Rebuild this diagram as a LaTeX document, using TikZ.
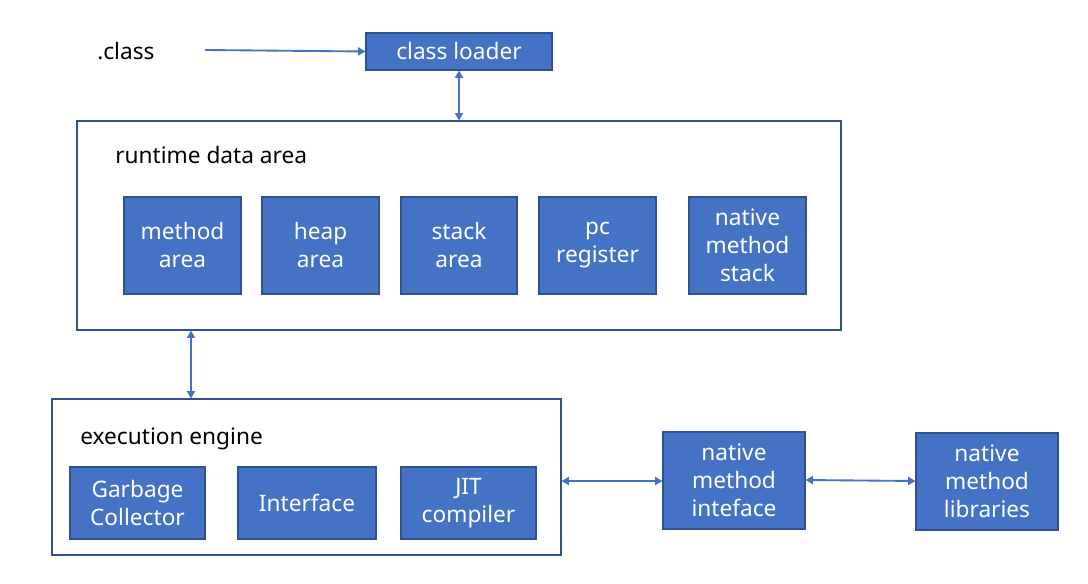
\documentclass[tikz,border=0pt]{standalone}
\usepackage{fontspec}
\setmainfont{Noto Sans}
\usetikzlibrary{arrows.meta}
\definecolor{boxfill}{HTML}{4472C4}
\definecolor{boxline}{HTML}{2F528F}
\tikzset{
  blue box/.style={draw=boxline, line width=0.8pt, fill=boxfill, text=white, align=center, inner sep=0pt,
    font=\fontsize{17pt}{21pt}\selectfont},
  frame/.style={draw=boxline, line width=0.8pt, fill=white, inner sep=0pt},
  label text/.style={font=\fontsize{17pt}{21pt}\selectfont, inner sep=0pt, anchor=west},
  conn/.style={draw=boxfill, line width=1.4pt, {Triangle[length=5.5pt,width=6pt]}-{Triangle[length=5.5pt,width=6pt]}},
  oneway/.style={draw=boxfill, line width=1.4pt, -{Triangle[length=5.5pt,width=6pt]}}
}
\newcommand{\pbox}[6]{% name, x1, y1, x2, y2, text
  \node[blue box, minimum width={(#4-#2)*0.75pt}, minimum height={(#5-#3)*0.75pt}] (#1) at ({(#2+#4)/2},{(#3+#5)/2}) {#6};}
\begin{document}
\begin{tikzpicture}[x=0.75pt, y=-0.75pt]
\useasboundingbox (0,0) rectangle (1088,584);
% outer frames
\node[frame, minimum width={764*0.75pt}, minimum height={209*0.75pt}] (rda) at (459,225.5) {};
\node[frame, minimum width={509*0.75pt}, minimum height={156*0.75pt}] (ee) at (306.5,477) {};
\node[label text] (rdal) at (115,155) {runtime data area};
\node[label text] (eel) at (80,439) {execution engine};
\node[label text] (cls) at (97,51) {.class};
% boxes
\pbox{cl}{366}{33}{552}{70}{class loader}
\pbox{ma}{124}{197}{241}{294}{method\\area}
\pbox{ha}{262}{197}{379}{294}{heap\\area}
\pbox{sa}{401}{197}{517}{294}{stack\\area}
\pbox{pc}{539}{197}{656}{294}{pc\\register}
\pbox{nms}{689}{197}{806}{294}{native\\method\\stack}
\pbox{gc}{70}{467}{205}{539}{Garbage\\Collector}
\pbox{it}{238}{467}{376}{539}{Interface}
\pbox{jit}{401}{467}{536}{539}{JIT\\compiler}
\pbox{nmi}{663}{432}{805}{529}{native\\method\\inteface}
\pbox{nml}{916}{433}{1058}{530}{native\\method\\libraries}
% connectors
\coordinate (src) at (205,50);
\draw[oneway] (src) -- (cl.west);
\draw[conn] (cl.south) -- (cl.south |- rda.north);
\draw[conn] (rda.south -| 191,0) -- (ee.north -| 191,0);
\draw[conn] (ee.east |- 0,481) -- (nmi.west |- 0,481);
\draw[conn] (nmi.east |- 0,480) -- (nml.west |- 0,481);
\end{tikzpicture}
\end{document}
